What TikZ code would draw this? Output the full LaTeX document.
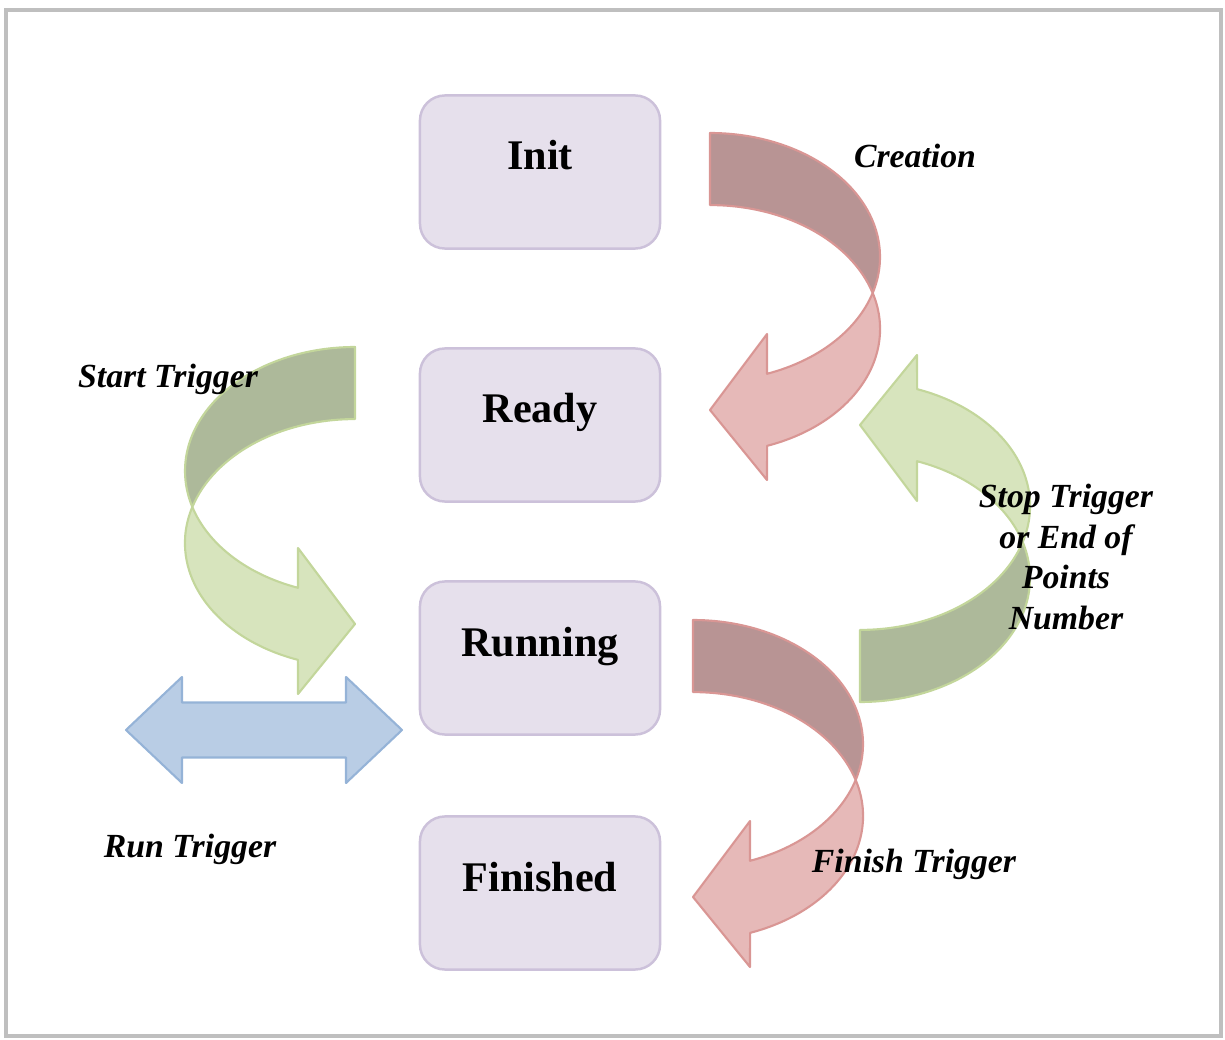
\documentclass[tikz,border=0pt]{standalone}
\usepackage{fontspec}
\setmainfont{Liberation Serif}
\usetikzlibrary{positioning}
\definecolor{statefill}{HTML}{E6E0EC}
\definecolor{stateline}{HTML}{CCC1DA}
\definecolor{reddark}{HTML}{B89494}
\definecolor{redlight}{HTML}{E6B9B8}
\definecolor{redline}{HTML}{D99694}
\definecolor{greendark}{HTML}{ADB99A}
\definecolor{greenlight}{HTML}{D7E4BD}
\definecolor{greenline}{HTML}{C3D69B}
\definecolor{runfill}{HTML}{B9CDE5}
\definecolor{runline}{HTML}{95B3D7}

\tikzset{
  pics/bendarrow/.style n args={3}{code={
    % front half with the head
    \filldraw[fill=#2,draw=#3,line width=0.6pt,line join=round]
      (162.7,-160) arc[start angle=16.9,end angle=-70.4,x radius=170,y radius=124]
      -- (57,-347) -- (0,-277) -- (57,-201) -- (57,-240.8)
      arc[start angle=-70.4,end angle=-16.9,x radius=170,y radius=124] -- cycle;
    % back half with the tail
    \filldraw[fill=#1,draw=#3,line width=0.6pt,line join=round]
      (0,0) arc[start angle=90,end angle=-16.9,x radius=170,y radius=124]
      arc[start angle=16.9,end angle=90,x radius=170,y radius=124] -- cycle;
  }}
}

\begin{document}
\begin{tikzpicture}[x=0.01cm,y=0.01cm,
  state/.style={draw=stateline,fill=statefill,line width=0.7pt,rounded corners=0.25cm,
    minimum width=2.4cm,minimum height=1.53cm,font=\fontsize{12}{14}\selectfont\bfseries,
    text height=0.28cm,text depth=0.32cm},
  trigger/.style={font=\fontsize{9.6}{11.6}\selectfont\bfseries\itshape,align=center}]
  \useasboundingbox (0,0) rectangle (1225,1039);
  % frame
  \draw[black!25,line width=1pt] (6,3) rectangle (1221,1029);

  % states
  \node[state] (init) at (540,867) {Init};
  \node[state] (ready) at (540,614) {Ready};
  \node[state] (running) at (540,381) {Running};
  \node[state] (finished) at (540,146) {Finished};

  % bent arrows
  \pic at (710,906) {bendarrow={reddark}{redlight}{redline}};
  \pic at (693,419) {bendarrow={reddark}{redlight}{redline}};
  \pic[xscale=-1] at (355,692) {bendarrow={greendark}{greenlight}{greenline}};
  \pic[yscale=-1] at (860,337) {bendarrow={greendark}{greenlight}{greenline}};

  % run trigger
  \filldraw[fill=runfill,draw=runline,line width=0.6pt,line join=round]
    (126,309) -- (182,362) -- (182,336.5) -- (346,336.5) -- (346,362) -- (402,309)
    -- (346,256) -- (346,281.5) -- (182,281.5) -- (182,256) -- cycle;

  % labels
  \node[trigger,anchor=base] (creation) at (915,871) {Creation};
  \node[trigger,anchor=base] (start) at (168,651) {Start Trigger};
  \node[trigger] (stop) at (1066,482) {Stop Trigger\\or End of\\Points\\Number};
  \node[trigger,anchor=base] (run) at (190,182) {Run Trigger};
  \node[trigger,anchor=base] (finish) at (914,167) {Finish Trigger};
\end{tikzpicture}
\end{document}
